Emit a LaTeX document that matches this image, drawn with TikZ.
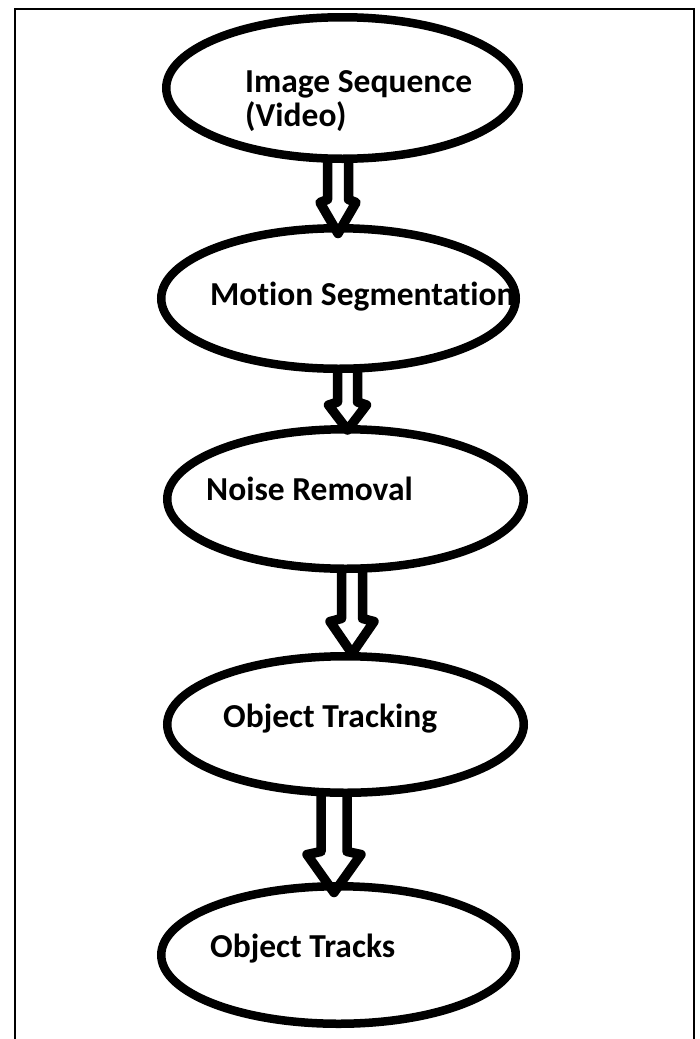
\documentclass[tikz,border=0pt]{standalone}
\usepackage{fontspec}
\setmainfont{Carlito}[Ligatures=NoCommon]
\usetikzlibrary{shapes.geometric,calc}
% #1 source node anchor, #2 tip coordinate, #3 head length, #4 shaft half width, #5 wing half width
\newcommand{\hollowarrow}[5]{%
  \draw[blockarr] ($(#2|-#1)+(-#4,-2)$) -- ($(#2)+(-#4,-#3)$) -- ($(#2)+(-#5,-#3+3)$) -- (#2)
     -- ($(#2)+(#5,-#3+3)$) -- ($(#2)+(#4,-#3)$) -- ($(#2|-#1)+(#4,-2)$);}
\begin{document}
\begin{tikzpicture}[x=1pt,y=-1pt,
  oval/.style={ellipse,draw=black,line width=8.5pt,inner sep=0pt},
  lbl/.style={anchor=base west,inner sep=0pt,font=\bfseries\fontsize{33.5}{34}\selectfont,text=black},
  blockarr/.style={draw=black,line width=9.5pt,line join=round,line cap=butt},
  frame/.style={draw=black,line width=2.2pt}]
\useasboundingbox[fill=white] (0,0) rectangle (700,1039);
\draw[frame] (15,1039) -- (15,9) -- (694,9) -- (694,1039);

\node[oval,minimum width=352.5pt,minimum height=141.5pt] (e1) at (342.5,88) {};
\node[oval,minimum width=354.5pt,minimum height=140.5pt] (e2) at (338.5,298.5) {};
\node[oval,minimum width=356.5pt,minimum height=139.5pt] (e3) at (345.5,499) {};
\node[oval,minimum width=356.5pt,minimum height=136.5pt] (e4) at (345.5,724.5) {};
\node[oval,minimum width=354.5pt,minimum height=137.5pt] (e5) at (338.5,955) {};

\node[lbl] (t1a) at (245,92) {Image Sequence};
\node[lbl] (t1b) at (245,126) {(Video)};
\node[lbl] (t2) at (210,305) {Motion Segmentation};
\node[lbl] (t3) at (206,500) {Noise Removal};
\node[lbl] (t4) at (223,727) {Object Tracking};
\node[lbl] (t5) at (210,957) {Object Tracks};

\coordinate (p1) at ($(e2.north)+(-0.5,9.5)$);
\coordinate (p2) at ($(e3.north)+(2,5)$);
\coordinate (p3) at ($(e4.north)+(6.5,1.5)$);
\coordinate (p4) at ($(e5.north)+(-4.5,10.5)$);

\hollowarrow{e1.south}{p1}{34}{10.5}{18}
\hollowarrow{e2.south}{p2}{28}{10}{19}
\hollowarrow{e3.south}{p3}{35}{10.5}{22}
\hollowarrow{e4.south}{p4}{41}{13}{27}
\end{tikzpicture}
\end{document}
